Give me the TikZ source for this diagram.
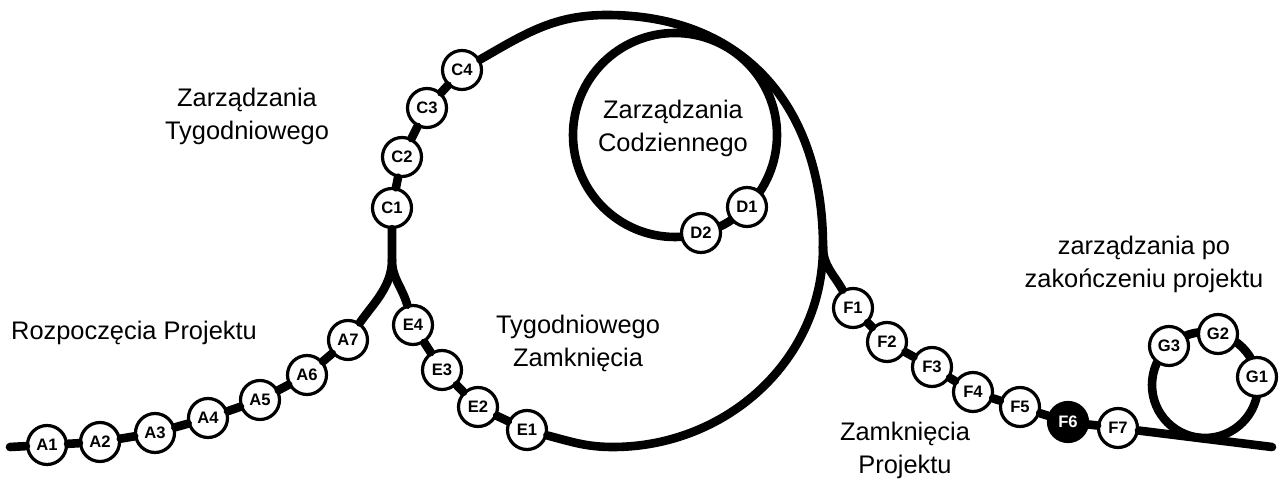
\documentclass[tikz,border=0pt]{standalone}
\usepackage{fontspec}
\setmainfont{Liberation Sans}
\begin{document}
\begin{tikzpicture}[x=0.5pt,y=0.5pt,line join=round,line cap=round,
	track/.style={line width=4.3pt},
	milestone/.style={circle,draw,line width=1.6pt,fill=white,minimum size=19.5pt,inner sep=0pt,font=\bfseries\fontsize{8.3}{9}\selectfont},
	phase/.style={align=center,font=\fontsize{12.7}{16.5}\selectfont}]
		\useasboundingbox (0,0) rectangle (1279,482);
		% loops
		\draw[track] (675,347) circle (102);
		\draw[track] (1205,97) circle (53);
		% milestones
		\node[milestone] (a1) at (47,37) {A1};
		\node[milestone] (a2) at (100,40) {A2};
		\node[milestone] (a3) at (155,49) {A3};
		\node[milestone] (a4) at (208,64) {A4};
		\node[milestone] (a5) at (260,82) {A5};
		\node[milestone] (a6) at (307,107) {A6};
		\node[milestone] (a7) at (348,142) {A7};
		\node[milestone] (c1) at (392,274) {C1};
		\node[milestone] (c2) at (402,325) {C2};
		\node[milestone] (c3) at (427,374) {C3};
		\node[milestone] (c4) at (462,412) {C4};
		\node[milestone] (d1) at (747,275) {D1};
		\node[milestone] (d2) at (701,249) {D2};
		\node[milestone] (e1) at (527,52) {E1};
		\node[milestone] (e2) at (478,75) {E2};
		\node[milestone] (e3) at (442,112) {E3};
		\node[milestone] (e4) at (413,157) {E4};
		\node[milestone] (f1) at (853,174) {F1};
		\node[milestone] (f2) at (887,140) {F2};
		\node[milestone] (f3) at (932,115) {F3};
		\node[milestone] (f4) at (973,90) {F4};
		\node[milestone] (f5) at (1020,75) {F5};
		\node[milestone,fill=black,text=white] (f6) at (1068,60) {F6};
		\node[milestone] (f7) at (1118,54) {F7};
		\node[milestone] (g1) at (1257,105) {G1};
		\node[milestone] (g2) at (1218,148) {G2};
		\node[milestone] (g3) at (1169,136) {G3};
		% track points
		\coordinate (start) at (10,35);
		\coordinate (finish) at (1272,35);
		\coordinate (lj) at (392,222);
		\coordinate (rj) at (823,235);
		\coordinate (top) at (607,467);
		\coordinate (bot) at (613,35);
		% track
		\draw[track] (start)--(a1)--(a2)--(a3)--(a4)--(a5)--(a6)--(a7);
		\draw[track] (a7) .. controls (372,177) and (392,195) .. (lj)--(c1)--(c2)--(c3)--(c4);
		\draw[track] (lj) to[out=-90,in=106] (e4)--(e3)--(e2)--(e1);
		\draw[track] (c4) to[out=30,in=180] (top) to[out=0,in=90,looseness=1.12] (rj);
		\draw[track] (rj) to[out=-90,in=0] (bot) to[out=180,in=-15] (e1);
		\draw[track] (rj) to[out=-90,in=120] (f1)--(f2)--(f3)--(f4)--(f5)--(f6)--(f7)--(finish);
		% labels
		\node[phase] (start-label) at (134,149) {Rozpoczęcia Projektu};
		\node[phase] (weekly) at (247,366) {Zarządzania\\Tygodniowego};
		\node[phase] (daily) at (673,354) {Zarządzania\\Codziennego};
		\node[phase] (weekly-close) at (578,139) {Tygodniowego\\Zamknięcia};
		\node[phase] (post) at (1144,218) {zarządzania po\\zakończeniu projektu};
		\node[phase] (close) at (905,32) {Zamknięcia\\Projektu};
\end{tikzpicture}
\end{document}
